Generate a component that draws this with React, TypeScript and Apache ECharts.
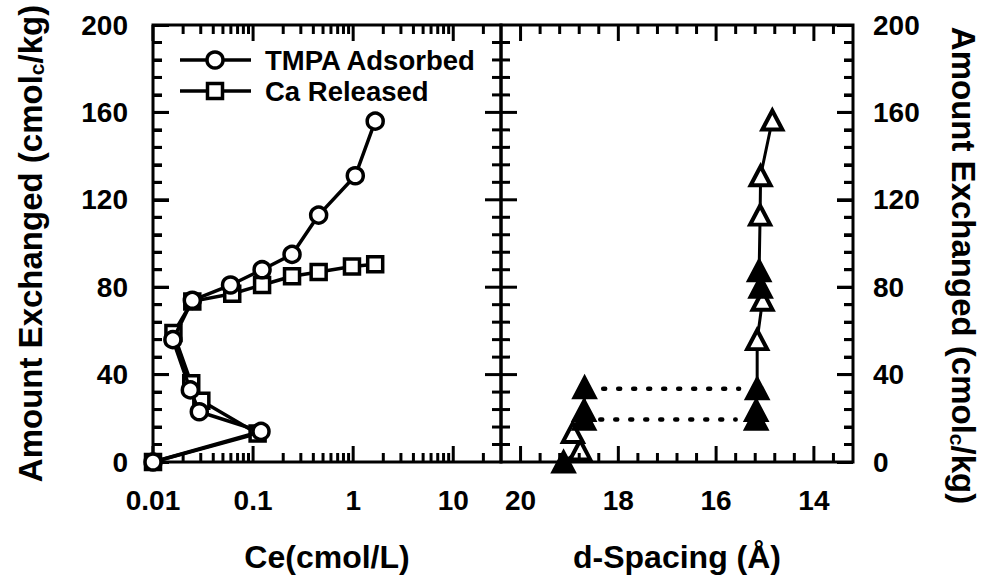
import React, { useEffect, useRef } from 'react';
import * as echarts from 'echarts';

// ---------- text ----------
const yAxisTitle = 'Amount Exchanged (cmol{s|c}/kg)';
const leftXTitle = 'Ce(cmol/L)';
const rightXTitle = 'd-Spacing (Å)';
const tmpaName = 'TMPA Adsorbed';
const caName = 'Ca Released';

// ---------- left panel data (Ce, cmol/L vs amount, cmolc/kg) ----------
const tmpaCe = [0.01, 0.12, 0.029, 0.0236, 0.0158, 0.0247, 0.0595, 0.123, 0.245, 0.452, 1.05, 1.66];
const tmpaAmt = [0, 14, 23, 33, 56, 74, 81, 88, 95, 113, 131, 156];
const caCe = [0.01, 0.111, 0.0304, 0.0241, 0.016, 0.0247, 0.0619, 0.123, 0.245, 0.452, 0.973, 1.66];
const caAmt = [0, 13, 28, 36, 59, 73.5, 77, 81, 85, 87, 89.5, 90.5];

// ---------- right panel data (d-spacing, Å vs amount) ----------
const dLowD = [19.12, 18.78, 18.93, 18.7, 18.7, 18.69];
const dLowAmt = [0, 5.5, 13.5, 19.5, 23.5, 34];
const dLowFilled = [true, false, false, true, true, true];
const dHighD = [15.18, 15.18, 15.16, 15.16, 15.05, 15.09, 15.12, 15.1, 15.09, 14.85];
const dHighAmt = [19.5, 23.5, 33.5, 56, 74, 80, 87.5, 113, 131, 156.5];
const dHighFilled = [true, true, true, false, false, true, true, false, false, false];
const dottedAmt = [33.5, 19.5];
const dottedFrom = [18.31, 18.37];
const dottedTo = [15.53, 15.6];

// ---------- axes ----------
const yMin = 0;
const yMax = 200;
const yStep = 40;
const ceMin = 0.01;
const ceMax = 30;
const dMin = 13.2;
const dMax = 20.4;
const ceLabels = [0.01, 0.1, 1, 10];
const dLabels = [14, 16, 18, 20];
const ceMajorTicks = [0.01, 0.1, 1, 10];
const ceMinorTicks = [
  0.02, 0.03, 0.04, 0.05, 0.06, 0.07, 0.08, 0.09,
  0.2, 0.3, 0.4, 0.5, 0.6, 0.7, 0.8, 0.9,
  2, 3, 4, 5, 6, 7, 8, 9,
  20,
];
const dMajorTicks = [14, 16, 18, 20];
const dMinorTicks = [13.6, 14.4, 14.8, 15.2, 15.6, 16.4, 16.8, 17.2, 17.6, 18.4, 18.8, 19.2, 19.6];
const yMajorTicks = [40, 80, 120, 160];
const yMinorTicks = [8, 16, 24, 32, 48, 56, 64, 72, 88, 96, 104, 112, 128, 136, 144, 152, 168, 176, 184, 192];

// ---------- layout ----------
const FONT = "'Liberation Sans', Arial, Helvetica, sans-serif";
const BLACK = '#000';
const TOP = 25;
const PLOT_H = 437;
const LEFT0 = 153;
const W0 = 348;
const W1 = 352;
const MAJOR = 16;
const MINOR = 9;
const TW = 3;

const labelStyle = {
  fontFamily: FONT,
  fontWeight: 'bold' as const,
  fontSize: 28,
  color: BLACK,
};
const titleStyle = {
  fontFamily: FONT,
  fontWeight: 'bold' as const,
  fontSize: 32,
  color: BLACK,
};
const yTitleStyle = (pad: number[]) => ({
  fontFamily: FONT,
  fontWeight: 'bold' as const,
  fontSize: 33,
  color: BLACK,
  padding: pad,
  rich: {
    s: {
      fontFamily: FONT,
      fontWeight: 'bold' as const,
      fontSize: 21,
      color: BLACK,
      verticalAlign: 'bottom' as const,
      lineHeight: 21,
      padding: [16, 0, 0, 0],
    },
  },
});

// ---------- tick marks: small bar symbols placed through the axes' scales ----------
// side: 'bottom' | 'top' (x ticks) or 'left' | 'right' (y ticks)
function tickMarks(points: number[][], len: number, side: string, xi: number, yi: number) {
  const vertical = side === 'bottom' || side === 'top';
  const size = vertical ? [TW, len] : [len, TW];
  const off =
    side === 'bottom' ? [0, -len / 2] : side === 'top' ? [0, len / 2] : side === 'left' ? [len / 2, 0] : [-len / 2, 0];
  return {
    type: 'line',
    xAxisIndex: xi,
    yAxisIndex: yi,
    data: points,
    symbol: 'rect',
    symbolSize: size,
    symbolOffset: off,
    showSymbol: true,
    showAllSymbol: true,
    clip: false,
    lineStyle: { width: 0, opacity: 0 },
    itemStyle: { color: BLACK, borderWidth: 0 },
    emphasis: { disabled: true },
  };
}
const atY = (ticks: number[], y: number) => ticks.map((v) => [v, y]);
const atX = (ticks: number[], x: number) => ticks.map((v) => [x, v]);

function yAxisCfg(grid: number, pos: 'left' | 'right', extra: any = {}) {
  return {
    type: 'value',
    gridIndex: grid,
    position: pos,
    min: yMin,
    max: yMax,
    interval: yStep,
    axisLine: { show: false, onZero: false },
    axisTick: { show: true, inside: true, length: MAJOR, lineStyle: { color: BLACK, width: TW } },
    minorTick: { show: true, splitNumber: 5, length: MINOR, lineStyle: { color: BLACK, width: TW } },
    splitLine: { show: false },
    axisLabel: { ...labelStyle, margin: pos === 'left' ? 25 : 20 },
    ...extra,
  };
}

function matchLog(v: number, list: number[]) {
  return list.find((l) => Math.abs(Math.log10(v / l)) < 1e-6);
}

// legend drawn as graphic (line + marker + text)
function legendGraphic() {
  const rows = [
    { name: tmpaName, y: 60, marker: 'circle' },
    { name: caName, y: 91, marker: 'rect' },
  ];
  const els: any[] = [];
  rows.forEach((r) => {
    els.push({ type: 'line', silent: true, z: 20, shape: { x1: 180, y1: r.y, x2: 251, y2: r.y }, style: { stroke: BLACK, lineWidth: 3.5 } });
    if (r.marker === 'circle') {
      els.push({ type: 'circle', silent: true, z: 21, shape: { cx: 215, cy: r.y, r: 8 }, style: { fill: '#fff', stroke: BLACK, lineWidth: 3.5 } });
    } else {
      els.push({ type: 'rect', silent: true, z: 21, shape: { x: 207.5, y: r.y - 7.5, width: 15, height: 15 }, style: { fill: '#fff', stroke: BLACK, lineWidth: 3.5 } });
    }
    els.push({
      type: 'text',
      silent: true,
      z: 21,
      x: 265,
      y: r.y,
      style: { text: r.name, fill: BLACK, fontFamily: FONT, fontWeight: 'bold', fontSize: 27.5, align: 'left', verticalAlign: 'middle' },
    });
  });
  return els;
}

export default function App() {
  const ref = useRef<HTMLDivElement>(null);
  useEffect(() => {
    if (!ref.current) return;
    const chart = echarts.init(ref.current, undefined, { renderer: 'svg' });
    const triData = (ds: number[], amts: number[], filled: boolean[]) =>
      ds.map((d, i) => ({ value: [d, amts[i]], itemStyle: { color: filled[i] ? BLACK : '#fff' } }));

    const option: any = {
      animation: false,
      backgroundColor: '#fff',
      grid: [
        { left: LEFT0, top: TOP, width: W0, height: PLOT_H, show: true, borderColor: BLACK, borderWidth: 3 },
        { left: LEFT0 + W0, top: TOP, width: W1, height: PLOT_H, show: true, borderColor: BLACK, borderWidth: 3 },
      ],
      graphic: { elements: legendGraphic() },
      xAxis: [
        {
          type: 'log',
          logBase: 10,
          gridIndex: 0,
          min: ceMin,
          max: ceMax,
          position: 'bottom',
          axisLine: { show: false, onZero: false },
          axisTick: { show: false },
          minorTick: { show: false },
          splitLine: { show: false },
          axisLabel: {
            ...labelStyle,
            margin: 24,
            formatter: (v: number) => {
              const m = matchLog(v, ceLabels);
              return m === undefined ? '' : String(m);
            },
          },
          name: leftXTitle,
          nameLocation: 'middle',
          nameGap: 79,
          nameTextStyle: titleStyle,
        },
        {
          type: 'value',
          gridIndex: 1,
          min: dMin,
          max: dMax,
          inverse: true,
          position: 'bottom',
          axisLine: { show: false, onZero: false },
          axisTick: { show: false },
          minorTick: { show: false },
          splitLine: { show: false },
          axisLabel: {
            ...labelStyle,
            margin: 24,
            formatter: (v: number) => {
              const m = dLabels.find((l) => Math.abs(l - v) < 1e-6);
              return m === undefined ? '' : String(m);
            },
          },
          name: rightXTitle,
          nameLocation: 'middle',
          nameGap: 79,
          nameTextStyle: titleStyle,
        },
      ],
      yAxis: [
        yAxisCfg(0, 'left', {
          name: yAxisTitle,
          nameLocation: 'middle',
          nameRotate: 90,
          nameGap: 106,
          nameTextStyle: yTitleStyle([0, 0, 0, 0]),
        }),
        yAxisCfg(1, 'right', {
          name: yAxisTitle,
          nameLocation: 'middle',
          nameRotate: -90,
          nameGap: 94,
          nameTextStyle: yTitleStyle([0, 0, 0, 44]),
        }),
      ],
      series: [
        {
          name: caName,
          type: 'line',
          xAxisIndex: 0,
          yAxisIndex: 0,
          data: caCe.map((x, i) => [x, caAmt[i]]),
          symbol: 'rect',
          symbolSize: 15,
          showAllSymbol: true,
          clip: false,
          lineStyle: { color: BLACK, width: 3.5 },
          itemStyle: { color: '#fff', borderColor: BLACK, borderWidth: 3.5 },
          z: 3,
        },
        {
          name: tmpaName,
          type: 'line',
          xAxisIndex: 0,
          yAxisIndex: 0,
          data: tmpaCe.map((x, i) => [x, tmpaAmt[i]]),
          symbol: 'circle',
          symbolSize: 16,
          showAllSymbol: true,
          clip: false,
          lineStyle: { color: BLACK, width: 3.5 },
          itemStyle: { color: '#fff', borderColor: BLACK, borderWidth: 3.5 },
          z: 4,
        },
        ...dottedAmt.map((a, i) => ({
          name: 'dotted' + i,
          type: 'line',
          xAxisIndex: 1,
          yAxisIndex: 1,
          data: [[dottedFrom[i], a], [dottedTo[i], a]],
          symbol: 'none',
          lineStyle: { color: BLACK, width: 4.5, type: [2, 13], cap: 'round' },
          z: 2,
        })),
        {
          name: 'dLow',
          type: 'line',
          xAxisIndex: 1,
          yAxisIndex: 1,
          data: triData(dLowD, dLowAmt, dLowFilled),
          symbol: 'triangle',
          symbolSize: [20, 19],
          showAllSymbol: true,
          clip: false,
          lineStyle: { color: BLACK, width: 3 },
          itemStyle: { borderColor: BLACK, borderWidth: 4 },
          z: 3,
        },
        {
          name: 'dHigh',
          type: 'line',
          xAxisIndex: 1,
          yAxisIndex: 1,
          data: triData(dHighD, dHighAmt, dHighFilled),
          symbol: 'triangle',
          symbolSize: [20, 19],
          showAllSymbol: true,
          clip: false,
          lineStyle: { color: BLACK, width: 3 },
          itemStyle: { borderColor: BLACK, borderWidth: 4 },
          z: 3,
        },
        // left panel ticks
        tickMarks(atY(ceMajorTicks, yMin), MAJOR, 'bottom', 0, 0),
        tickMarks(atY(ceMajorTicks, yMax), MAJOR, 'top', 0, 0),
        tickMarks(atY(ceMinorTicks, yMin), MINOR, 'bottom', 0, 0),
        tickMarks(atY(ceMinorTicks, yMax), MINOR, 'top', 0, 0),
        tickMarks(atX(yMajorTicks, ceMin), MAJOR, 'left', 0, 0),
        tickMarks(atX(yMajorTicks, ceMax), MAJOR, 'right', 0, 0),
        tickMarks(atX(yMinorTicks, ceMin), MINOR, 'left', 0, 0),
        tickMarks(atX(yMinorTicks, ceMax), MINOR, 'right', 0, 0),
        // right panel ticks (x axis reversed: dMax is the left edge)
        tickMarks(atY(dMajorTicks, yMin), MAJOR, 'bottom', 1, 1),
        tickMarks(atY(dMajorTicks, yMax), MAJOR, 'top', 1, 1),
        tickMarks(atY(dMinorTicks, yMin), MINOR, 'bottom', 1, 1),
        tickMarks(atY(dMinorTicks, yMax), MINOR, 'top', 1, 1),
        tickMarks(atX(yMajorTicks, dMax), MAJOR, 'left', 1, 1),
        tickMarks(atX(yMajorTicks, dMin), MAJOR, 'right', 1, 1),
        tickMarks(atX(yMinorTicks, dMax), MINOR, 'left', 1, 1),
        tickMarks(atX(yMinorTicks, dMin), MINOR, 'right', 1, 1),
      ],
    };
    chart.setOption(option);
    return () => chart.dispose();
  }, []);
  return <div ref={ref} style={{ position: 'fixed', left: 0, top: 0, width: 994, height: 582 }} />;
}
